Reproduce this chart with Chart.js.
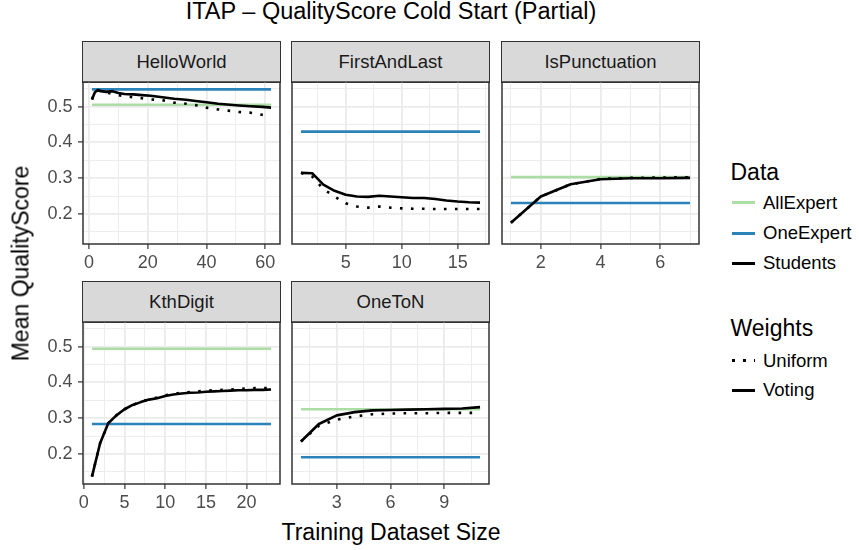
<!DOCTYPE html>
<html>
<head>
<meta charset="utf-8">
<title>ITAP – QualityScore Cold Start (Partial)</title>
<script src="https://cdn.jsdelivr.net/npm/chart.js@4.4.1/dist/chart.umd.min.js"></script>
<style>
  body { margin: 0; background: #fff; font-family: "Liberation Sans", Arial, sans-serif; }
  #plot { position: relative; width: 859px; height: 550px; overflow: hidden; background: #fff; }
  #plot canvas { position: absolute; }
  .txt { position: absolute; line-height: 1; white-space: nowrap; color: #000; }
  .strip {
    position: absolute; box-sizing: border-box; background: #d9d9d9; border: 1.5px solid #333;
    display: flex; align-items: center; justify-content: center;
    font-size: 18.5px; line-height: 1; color: #1a1a1a;
  }
  .key { position: absolute; width: 23px; height: 3px; }
</style>
</head>
<body>
<div id="plot"></div>
<script>
// ---- data ----

// shared y axis, facets use fixed scales
const yMajor = [0.2, 0.3, 0.4, 0.5];
const yMinor = [0.15, 0.25, 0.35, 0.45, 0.55];

// HelloWorld
const helloSizes   = [1, 2, 3, 4, 6, 8, 10, 12, 15, 18, 21, 25, 29, 33, 37, 40, 44, 48, 51, 55, 59, 62];
const helloVoting  = [0.520, 0.540, 0.546, 0.543, 0.541, 0.543, 0.538, 0.535, 0.534, 0.532, 0.530, 0.526, 0.522, 0.519, 0.515, 0.512, 0.508, 0.505, 0.503, 0.501, 0.499, 0.497];
const helloUniform = [0.520, 0.540, 0.546, 0.543, 0.540, 0.535, 0.532, 0.529, 0.526, 0.523, 0.520, 0.518, 0.511, 0.508, 0.503, 0.497, 0.492, 0.488, 0.485, 0.483, 0.477, 0.474];
const helloAllExpert = 0.505;
const helloOneExpert = 0.548;
const helloXMajor = [0, 20, 40, 60];
const helloXMinor = [10, 30, 50];

// FirstAndLast
const firstSizes   = [1, 2, 3, 4, 5, 6, 7, 8, 9, 10, 11, 12, 13, 14, 15, 16, 17];
const firstVoting  = [0.315, 0.314, 0.282, 0.265, 0.254, 0.249, 0.248, 0.251, 0.249, 0.247, 0.245, 0.245, 0.242, 0.238, 0.235, 0.233, 0.232];
const firstUniform = [0.315, 0.305, 0.270, 0.249, 0.230, 0.221, 0.218, 0.221, 0.218, 0.216, 0.215, 0.215, 0.214, 0.214, 0.214, 0.214, 0.214];
const firstAllExpert = null;
const firstOneExpert = 0.430;
const firstXMajor = [5, 10, 15];
const firstXMinor = [2.5, 7.5, 12.5, 17.5];

// IsPunctuation
const punctSizes   = [1, 2, 3, 4, 5, 6, 7];
const punctVoting  = [0.176, 0.249, 0.283, 0.297, 0.300, 0.300, 0.301];
const punctUniform = [0.176, 0.249, 0.283, 0.298, 0.301, 0.302, 0.303];
const punctAllExpert = 0.303;
const punctOneExpert = 0.231;
const punctXMajor = [2, 4, 6];
const punctXMinor = [1, 3, 5, 7];

// KthDigit
const kthSizes   = [1, 2, 3, 4, 5, 6, 7, 8, 9, 10, 11, 12, 13, 14, 15, 16, 17, 18, 19, 20, 21, 22, 23];
const kthVoting  = [0.137, 0.230, 0.286, 0.308, 0.325, 0.337, 0.345, 0.352, 0.356, 0.362, 0.366, 0.369, 0.371, 0.372, 0.374, 0.375, 0.376, 0.377, 0.378, 0.378, 0.379, 0.379, 0.380];
const kthUniform = [0.137, 0.230, 0.286, 0.308, 0.325, 0.337, 0.346, 0.353, 0.358, 0.364, 0.368, 0.371, 0.373, 0.375, 0.377, 0.378, 0.379, 0.380, 0.381, 0.383, 0.384, 0.384, 0.385];
const kthAllExpert = 0.494;
const kthOneExpert = 0.284;
const kthXMajor = [0, 5, 10, 15, 20];
const kthXMinor = [2.5, 7.5, 12.5, 17.5, 22.5];

// OneToN
const oneSizes   = [1, 2, 3, 4, 5, 6, 7, 8, 9, 10, 11];
const oneVoting  = [0.235, 0.284, 0.308, 0.317, 0.322, 0.323, 0.324, 0.325, 0.326, 0.327, 0.331];
const oneUniform = [0.235, 0.279, 0.296, 0.305, 0.311, 0.313, 0.314, 0.314, 0.315, 0.315, 0.315];
const oneAllExpert = 0.325;
const oneOneExpert = 0.191;
const oneXMajor = [3, 6, 9];
const oneXMinor = [1.5, 4.5, 7.5, 10.5];

// legend levels
const dataLevels = ['AllExpert', 'OneExpert', 'Students'];
const weightLevels = ['Uniform', 'Voting'];

// ---- styling ----
const FONT = '"Liberation Sans", Arial, sans-serif';
const COL_ALL = '#abdda4';
const COL_ONE = '#2b83ba';
const COL_STU = '#000000';
const LINE_W = 2.6;
const DOTS = [2.6, 8.4];

const PANEL_W = 197, PANEL_H = 162;
const Y_W = 50, X_H = 34, PAD_T = 24, PAD_R = 26;
const STRIP_H = 40;

Chart.defaults.font.family = FONT;

const plot = document.getElementById('plot');

// ggplot style 5% expansion of the data range
function expand(lo, hi) {
  const d = (hi - lo) * 0.05;
  return [lo - d, hi + d];
}

const allY = [].concat(helloVoting, helloUniform, firstVoting, firstUniform, punctVoting, punctUniform,
  kthVoting, kthUniform, oneVoting, oneUniform,
  [helloAllExpert, helloOneExpert, firstOneExpert, punctAllExpert, punctOneExpert,
   kthAllExpert, kthOneExpert, oneAllExpert, oneOneExpert]);
const [yMin, yMax] = expand(Math.min(...allY), Math.max(...allY));

const panels = [
  { name: 'HelloWorld', sizes: helloSizes, voting: helloVoting, uniform: helloUniform,
    allExpert: helloAllExpert, oneExpert: helloOneExpert, xMajor: helloXMajor, xMinor: helloXMinor,
    left: 83, top: 82, showY: true },
  { name: 'FirstAndLast', sizes: firstSizes, voting: firstVoting, uniform: firstUniform,
    allExpert: firstAllExpert, oneExpert: firstOneExpert, xMajor: firstXMajor, xMinor: firstXMinor,
    left: 292, top: 82, showY: false },
  { name: 'IsPunctuation', sizes: punctSizes, voting: punctVoting, uniform: punctUniform,
    allExpert: punctAllExpert, oneExpert: punctOneExpert, xMajor: punctXMajor, xMinor: punctXMinor,
    left: 502, top: 82, showY: false },
  { name: 'KthDigit', sizes: kthSizes, voting: kthVoting, uniform: kthUniform,
    allExpert: kthAllExpert, oneExpert: kthOneExpert, xMajor: kthXMajor, xMinor: kthXMinor,
    left: 83, top: 322, showY: true },
  { name: 'OneToN', sizes: oneSizes, voting: oneVoting, uniform: oneUniform,
    allExpert: oneAllExpert, oneExpert: oneOneExpert, xMajor: oneXMajor, xMinor: oneXMinor,
    left: 292, top: 322, showY: false }
];

// border around the plotting area, drawn over the data like panel.border
const panelFrame = {
  id: 'panelFrame',
  afterDraw(chart) {
    const a = chart.chartArea;
    const ctx = chart.ctx;
    ctx.save();
    ctx.strokeStyle = '#333333';
    ctx.lineWidth = 1.5;
    ctx.strokeRect(a.left, a.top, a.right - a.left, a.bottom - a.top);
    ctx.restore();
  }
};

function gridTicks(major, minor) {
  return major.concat(minor).sort((a, b) => a - b).map(v => ({ value: v }));
}

function axisGrid(major, showTicks) {
  const isMajor = c => c.tick && major.includes(c.tick.value);
  return {
    color: '#ebebeb',
    lineWidth: c => isMajor(c) ? 1.8 : 0.9,
    drawTicks: showTicks,
    tickLength: 5,
    tickWidth: 1.2,
    tickColor: c => isMajor(c) ? '#333333' : 'rgba(0,0,0,0)'
  };
}

function addText(text, css) {
  const el = document.createElement('div');
  el.className = 'txt';
  el.textContent = text;
  Object.assign(el.style, css);
  plot.appendChild(el);
  return el;
}

function buildPanel(p) {
  const [xMin, xMax] = expand(p.sizes[0], p.sizes[p.sizes.length - 1]);

  const strip = document.createElement('div');
  strip.className = 'strip';
  strip.textContent = p.name;
  Object.assign(strip.style, {
    left: (p.left - 0.75) + 'px', top: (p.top - STRIP_H - 0.75) + 'px',
    width: (PANEL_W + 1.5) + 'px', height: (STRIP_H + 1.5) + 'px'
  });
  plot.appendChild(strip);

  const canvas = document.createElement('canvas');
  canvas.width = Y_W + PANEL_W + PAD_R;
  canvas.height = PAD_T + PANEL_H + X_H;
  canvas.style.left = (p.left - Y_W) + 'px';
  canvas.style.top = (p.top - PAD_T) + 'px';
  plot.appendChild(canvas);

  const pts = ys => p.sizes.map((x, i) => ({ x: x, y: ys[i] }));
  const flat = v => [{ x: p.sizes[0], y: v }, { x: p.sizes[p.sizes.length - 1], y: v }];
  const base = { pointRadius: 0, tension: 0, borderJoinStyle: 'round', borderWidth: LINE_W, fill: false };

  // first dataset is painted last (on top)
  const datasets = [
    Object.assign({ label: 'Students / Voting', data: pts(p.voting), borderColor: COL_STU }, base),
    Object.assign({ label: 'Students / Uniform', data: pts(p.uniform), borderColor: COL_STU, borderDash: DOTS }, base)
  ];
  if (p.oneExpert !== null) {
    datasets.push(Object.assign({ label: 'OneExpert', data: flat(p.oneExpert), borderColor: COL_ONE }, base));
  }
  if (p.allExpert !== null) {
    datasets.push(Object.assign({ label: 'AllExpert', data: flat(p.allExpert), borderColor: COL_ALL }, base));
  }

  new Chart(canvas, {
    type: 'line',
    data: { datasets: datasets },
    options: {
      responsive: false,
      animation: false,
      devicePixelRatio: 1,
      events: [],
      layout: { padding: { top: PAD_T, right: PAD_R, left: 0, bottom: 0 } },
      plugins: { legend: { display: false }, tooltip: { enabled: false }, title: { display: false } },
      scales: {
        x: {
          type: 'linear',
          position: 'bottom',
          min: xMin,
          max: xMax,
          bounds: 'data',
          afterBuildTicks: s => { s.ticks = gridTicks(p.xMajor, p.xMinor); },
          afterFit: s => { s.height = X_H; },
          border: { display: false },
          grid: axisGrid(p.xMajor, true),
          ticks: {
            autoSkip: false, maxRotation: 0, minRotation: 0, padding: 3,
            color: '#4d4d4d', font: { size: 18 },
            callback: v => p.xMajor.includes(v) ? String(v) : ''
          }
        },
        y: {
          type: 'linear',
          position: 'left',
          min: yMin,
          max: yMax,
          bounds: 'data',
          afterBuildTicks: s => { s.ticks = gridTicks(yMajor, yMinor); },
          afterFit: s => { s.width = Y_W; },
          border: { display: false },
          grid: axisGrid(yMajor, p.showY),
          ticks: {
            display: p.showY, autoSkip: false, padding: 5.5,
            color: '#4d4d4d', font: { size: 18 },
            callback: v => yMajor.includes(v) ? v.toFixed(1) : ''
          }
        }
      }
    },
    plugins: [panelFrame]
  });
}

panels.forEach(buildPanel);

// titles
addText('ITAP – QualityScore Cold Start (Partial)', {
  left: '83px', width: '616px', top: '0px', textAlign: 'center', fontSize: '23.5px'
});
addText('Training Dataset Size', {
  left: '83px', width: '616px', top: '521px', textAlign: 'center', fontSize: '23px'
});
addText('Mean QualityScore', {
  left: '-129px', width: '300px', top: '251.5px', height: '23px', textAlign: 'center',
  fontSize: '23px', transform: 'rotate(-90deg)'
});

// legend
function legendKey(y, color, dotted) {
  const k = document.createElement('div');
  k.className = 'key';
  k.style.left = '732px';
  k.style.top = Math.round(y - 1.5) + 'px';
  k.style.background = dotted
    ? 'repeating-linear-gradient(to right, ' + color + ' 0 3px, transparent 3px 11px)'
    : color;
  plot.appendChild(k);
}

addText('Data', { left: '730.5px', top: '160.5px', fontSize: '23px' });
const dataColors = [COL_ALL, COL_ONE, COL_STU];
const dataKeyY = [202.7, 233.3, 263.3];
dataLevels.forEach((lab, i) => {
  legendKey(dataKeyY[i], dataColors[i], false);
  addText(lab, { left: '763px', top: (dataKeyY[i] - 9) + 'px', fontSize: '18.5px' });
});

addText('Weights', { left: '730.5px', top: '317px', fontSize: '23px' });
const weightKeyY = [360.7, 390];
weightLevels.forEach((lab, i) => {
  legendKey(weightKeyY[i], COL_STU, lab === 'Uniform');
  addText(lab, { left: '763px', top: (weightKeyY[i] - 9) + 'px', fontSize: '18.5px' });
});
</script>
</body>
</html>
